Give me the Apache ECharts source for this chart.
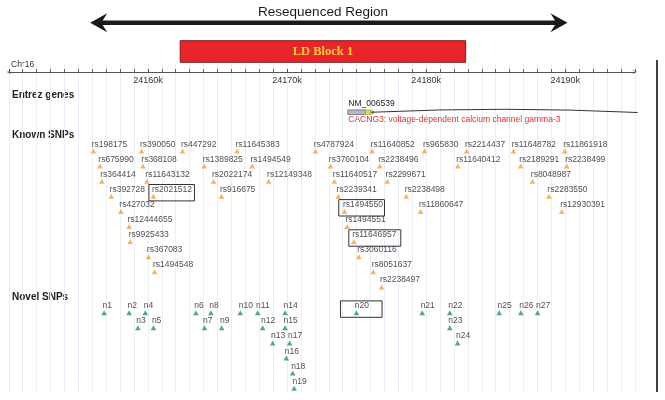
<!DOCTYPE html>
<html><head><meta charset="utf-8">
<script src="https://cdn.jsdelivr.net/npm/echarts@6/dist/echarts.min.js"></script>
<style>html,body{margin:0;padding:0;background:#fff}#c{width:665px;height:400px}</style>
</head><body><div id="c"></div>
<script>
// ---------------- data ----------------
const tickLabels = ['24160k', '24170k', '24180k', '24190k'];
const resequencedRegion = [24155.85, 24190.16];
const resequencedLabel = 'Resequenced Region';
const ldBlock = [24162.32, 24182.84];
const ldLabel = 'LD Block 1';
const chromosome = 'Chr16';
const geneName = 'NM_006539';
const geneDesc = 'CACNG3: voltage-dependent calcium channel gamma-3';
const geneCds = [24174.37, 24175.64];
const geneUtr = [24175.64, 24176.0];
const geneSpan = [24176.0, 24195.2];

const knownNames = [
  'rs198175','rs390050','rs447292','rs11645383','rs4787924','rs11640852','rs965830','rs2214437','rs11648782','rs11861918',
  'rs675990','rs368108','rs1389825','rs1494549','rs3760104','rs2238496','rs11640412','rs2189291','rs2238499',
  'rs364414','rs11643132','rs2022174','rs12149348','rs11640517','rs2299671','rs8048987',
  'rs392728','rs2021512','rs916675','rs2239341','rs2238498','rs2283550',
  'rs427032','rs1494550','rs11860647','rs12930391',
  'rs12444655','rs1494551',
  'rs9925433','rs11646957',
  'rs367083','rs3060116',
  'rs1494548','rs8051637',
  'rs2238497'
];
const knownPos = [
  24156.08,24159.54,24162.49,24166.41,24172.04,24176.12,24179.89,24182.91,24186.27,24189.97,
  24156.55,24159.64,24164.05,24167.49,24173.12,24176.67,24182.28,24186.80,24190.11,
  24156.69,24159.93,24164.72,24168.68,24173.41,24177.20,24187.64,
  24157.36,24160.40,24165.29,24173.68,24178.57,24188.83,
  24158.06,24174.13,24179.60,24189.75,
  24158.65,24174.32,
  24158.73,24174.80,
  24160.04,24175.16,
  24160.48,24176.20,
  24176.79
];
const knownLane = [
  1,1,1,1,1,1,1,1,1,1,
  2,2,2,2,2,2,2,2,2,
  3,3,3,3,3,3,3,
  4,4,4,4,4,4,
  5,5,5,5,
  6,6,
  7,7,
  8,8,
  9,9,
  10
];

const novelNames = ['n1','n2','n3','n4','n5','n6','n7','n8','n9','n10','n11','n12','n13','n14','n15','n16','n17','n18','n19','n20','n21','n22','n23','n24','n25','n26','n27'];
const novelPos = [24156.85,24158.65,24159.28,24159.81,24160.40,24163.45,24164.07,24164.53,24165.30,24166.64,24167.89,24168.25,24168.97,24169.86,24169.86,24169.95,24170.19,24170.41,24170.51,24174.99,24179.72,24181.70,24181.70,24182.26,24185.25,24186.81,24188.01];
const novelLane = [1,1,2,1,2,1,2,1,2,1,1,2,3,1,2,4,3,5,6,1,1,1,2,3,1,1,1];

const highlighted = ['rs2021512', 'rs1494550', 'rs11646957', 'n20'];

// ---------------- layout / style ----------------
const FONT = '"Liberation Sans", Arial, sans-serif';
const LANE_PX = 15.1;
const GRID_TOP = 63, GRID_BOTTOM = 8;
const Y_MAX = (400 - GRID_TOP - GRID_BOTTOM) / LANE_PX;
const KNOWN_BASE = (151 - GRID_TOP) / LANE_PX - 1;
const NOVEL_BASE = (312.7 - GRID_TOP) / LANE_PX - 1;
const boxExtent = { rs2021512: [4.6, 41], rs1494550: [5.7, 40], rs11646957: [5, 47], n20: [16, 25.6] };
const GRID_COLOR = '#e9eff7';

const knownData = knownNames.map((n, i) => ({ name: n, value: [knownPos[i], KNOWN_BASE + knownLane[i]] }));
const novelData = novelNames.map((n, i) => ({ name: n, value: [novelPos[i], NOVEL_BASE + novelLane[i]] }));
const allPts = knownData.concat(novelData);
const boxData = highlighted.map(n => {
  const p = allPts.find(d => d.name === n);
  return { name: n, value: p.value.slice() };
});

const snpLabel = {
  show: true, formatter: p => p.name, position: [1.2, -4.3], align: 'left', verticalAlign: 'middle',
  fontSize: 8.5, color: '#222', fontFamily: FONT
};
const chev = 'path://M0,10 L5,0 L10,10 L8.6,10 L5,2.6 L1.4,10 Z';

const chart = echarts.init(document.getElementById('c'), null, { renderer: 'canvas' });
chart.setOption({
  backgroundColor: '#fff',
  animation: false,
  grid: { left: 8.8, right: 30.2, top: GRID_TOP, bottom: GRID_BOTTOM, containLabel: false },
  xAxis: {
    type: 'value', position: 'top', offset: -9, min: 24150, max: 24195, interval: 10,
    axisLine: { show: true, onZero: false, lineStyle: { color: '#555', width: 1 }, symbol: [chev, chev], symbolSize: [7, 4] },
    axisTick: { show: true, length: 3, lineStyle: { color: '#555' } },
    minorTick: { show: true, splitNumber: 10, length: 3, lineStyle: { color: '#666' } },
    axisLabel: {
      inside: true, margin: 4, fontSize: 9, color: '#333', fontFamily: FONT,
      formatter: v => { const s = Math.round(v) + 'k'; return tickLabels.includes(s) ? s : ''; }
    },
    splitLine: { show: true, lineStyle: { color: GRID_COLOR, width: 1 } },
    minorSplitLine: { show: true, lineStyle: { color: GRID_COLOR, width: 1 } }
  },
  yAxis: { type: 'value', inverse: true, min: 0, max: Y_MAX, show: false },
  graphic: [
    { type: 'text', x: 323, y: 12, style: { text: resequencedLabel, fontSize: 13.5, fontFamily: FONT, fill: '#1a1a1a', align: 'center', verticalAlign: 'middle' } },
    { type: 'text', x: 11, y: 65, style: { text: chromosome, fontSize: 8.5, fontFamily: FONT, fill: '#333', align: 'left', verticalAlign: 'middle' } },
    { type: 'text', x: 12, y: 95, style: { text: 'Entrez genes', fontSize: 10, fontWeight: 'bold', fontFamily: FONT, fill: '#222', align: 'left', verticalAlign: 'middle' } },
    { type: 'text', x: 12, y: 135, style: { text: 'Known SNPs', fontSize: 10, fontWeight: 'bold', fontFamily: FONT, fill: '#222', align: 'left', verticalAlign: 'middle' } },
    { type: 'text', x: 12, y: 297.5, style: { text: 'Novel SNPs', fontSize: 10, fontWeight: 'bold', fontFamily: FONT, fill: '#222', align: 'left', verticalAlign: 'middle' } },
    { type: 'line', shape: { x1: 657, y1: 60, x2: 657, y2: 392 }, style: { stroke: '#111', lineWidth: 1.6 } }
  ],
  series: [
    {
      type: 'custom', clip: false, z: 5, silent: true,
      data: [resequencedRegion],
      renderItem: (params, api) => {
        const x1 = api.coord([api.value(0), 0])[0];
        const x2 = api.coord([api.value(1), 0])[0];
        const y = 22.7;
        return {
          type: 'polygon',
          shape: { points: [
            [x1, y], [x1 + 17, y - 9.5], [x1 + 12.5, y - 2.2], [x2 - 12.5, y - 2.2], [x2 - 17, y - 9.5],
            [x2, y], [x2 - 17, y + 9.5], [x2 - 12.5, y + 2.2], [x1 + 12.5, y + 2.2], [x1 + 17, y + 9.5]
          ] },
          style: { fill: '#1a1a1a' }
        };
      }
    },
    {
      type: 'custom', clip: false, z: 5, silent: true,
      data: [ldBlock],
      renderItem: (params, api) => {
        const x1 = api.coord([api.value(0), 0])[0];
        const x2 = api.coord([api.value(1), 0])[0];
        return {
          type: 'group', children: [
            { type: 'rect', shape: { x: x1, y: 40.7, width: x2 - x1, height: 21.6 }, style: { fill: '#e9242b', stroke: '#7a1f1f', lineWidth: 1 } },
            { type: 'text', x: (x1 + x2) / 2, y: 51.8, style: { text: ldLabel, fontSize: 12.5, fontWeight: 'bold', fontFamily: '"Liberation Serif", "Times New Roman", serif', fill: '#f7cf3a', align: 'center', verticalAlign: 'middle' } }
          ]
        };
      }
    },
    {
      type: 'custom', clip: false, z: 5, silent: true,
      data: [[geneCds[0], geneCds[1], geneUtr[0], geneUtr[1], geneSpan[0], geneSpan[1]]],
      renderItem: (params, api) => {
        const px = i => api.coord([api.value(i), 0])[0];
        const c0 = px(0), c1 = px(1), u0 = px(2), u1 = px(3), s0 = px(4), s1 = px(5);
        const yc = 112.2;
        return {
          type: 'group', children: [
            { type: 'bezierCurve', shape: { x1: s0 + 3, y1: yc, cpx1: (s0 + s1) / 2, cpy1: yc - 6, x2: s1, y2: yc + 0.3 }, style: { stroke: '#333', lineWidth: 1, fill: null } },
            { type: 'polyline', shape: { points: [[s0 + 1, yc - 2], [s0 + 3.5, yc], [s0 + 1, yc + 2]] }, style: { stroke: '#333', lineWidth: 0.8, fill: null } },
            { type: 'line', shape: { x1: u1, y1: yc, x2: s0 + 3, y2: yc }, style: { stroke: '#333', lineWidth: 1 } },
            { type: 'rect', shape: { x: c0, y: yc - 2.3, width: c1 - c0, height: 4.6 }, style: { fill: '#b5b9c6', stroke: '#6d6d78', lineWidth: 0.8 } },
            { type: 'rect', shape: { x: u0, y: yc - 2.3, width: u1 - u0, height: 4.6 }, style: { fill: '#e6df2e', stroke: '#9a9420', lineWidth: 0.6 } },
            { type: 'text', x: c0 + 0.5, y: 104, style: { text: geneName, fontSize: 8.5, fontFamily: FONT, fill: '#222', align: 'left', verticalAlign: 'middle' } },
            { type: 'text', x: c0 + 0.5, y: 119.6, style: { text: geneDesc, fontSize: 8.5, fontFamily: FONT, fill: '#e3302c', align: 'left', verticalAlign: 'middle' } }
          ]
        };
      }
    },
    {
      name: 'Known SNPs', type: 'scatter', z: 3, silent: true,
      symbol: 'triangle', symbolSize: [5.6, 5],
      itemStyle: { color: '#f0a434' },
      label: snpLabel,
      data: knownData
    },
    {
      name: 'Novel SNPs', type: 'scatter', z: 3, silent: true,
      symbol: 'triangle', symbolSize: [5.6, 5],
      itemStyle: { color: '#1d9a5c' },
      label: snpLabel,
      data: novelData
    },
    {
      type: 'custom', clip: false, z: 6, silent: true,
      data: boxData,
      renderItem: (params, api) => {
        const c = api.coord([api.value(0), api.value(1)]);
        const ext = boxExtent[highlighted[params.dataIndex]];
        return {
          type: 'rect',
          shape: { x: c[0] - ext[0], y: c[1] - 11.8, width: ext[0] + ext[1], height: 16.4 },
          style: { fill: null, stroke: '#333', lineWidth: 1 }
        };
      }
    }
  ]
});
</script>
</body></html>
